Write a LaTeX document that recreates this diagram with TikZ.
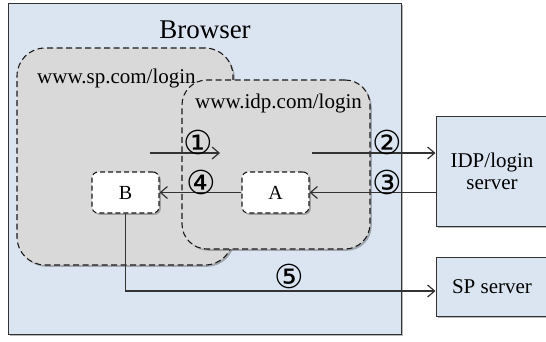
\documentclass[tikz,border=0pt]{standalone}
\usepackage{fontspec}
\setmainfont{Liberation Serif}
\newfontfamily\circfont{DejaVu Sans}
\usetikzlibrary{arrows.meta,shadows,calc}
\definecolor{lightblue}{HTML}{DBE5F1}
\definecolor{regiongray}{HTML}{D9D9D9}
\definecolor{linegray}{HTML}{333333}
\definecolor{dashgray}{HTML}{1A1A1A}
\begin{document}
\begin{tikzpicture}[x=1pt,y=-1pt,
  shad/.style={drop shadow={shadow xshift=1.8pt,shadow yshift=-1.8pt,opacity=0.4,fill=black!70}},
  panel/.style={draw=linegray,line width=1pt,fill=lightblue,shad,inner sep=0pt,font=\fontsize{21}{24}\selectfont,align=center},
  region/.style={draw=dashgray,dash pattern=on 6pt off 3.5pt,line width=1.1pt,fill=regiongray,rounded corners=28pt,shad,inner sep=0pt},
  smallbox/.style={draw=dashgray,dash pattern=on 5pt off 3pt,line width=1.1pt,fill=white,rounded corners=6pt,shad,minimum width=67pt,minimum height=41pt,inner sep=0pt,font=\fontsize{20}{24}\selectfont},
  lbl/.style={font=\fontsize{21}{24}\selectfont,inner sep=0pt},
  num/.style={font=\circfont\fontsize{33}{36}\selectfont,inner sep=0pt},
  arr/.style={draw=linegray,line width=1.2pt,-{Straight Barb[length=7pt,width=12pt,line width=1.2pt]}}
]
\clip (0,0) rectangle (546,341);
\fill[white] (0,0) rectangle (546,341);

% Browser
\node[panel,minimum width=393pt,minimum height=331pt] (browser) at (204.5,168.5) {};
\node[font=\fontsize{27}{30}\selectfont,inner sep=0pt] (btitle) at (205,30) {Browser};

% Regions
\node[region,minimum width=216pt,minimum height=217pt] (sp) at (125,156.5) {};
\node[region,minimum width=188pt,minimum height=169pt,rounded corners=25pt] (idp) at (276,164.5) {};
\node[lbl,anchor=base west] (splbl) at (37,83) {www.sp.com/login};
\node[lbl,anchor=base west] (idplbl) at (195,108) {www.idp.com/login};

% Inner boxes
\node[smallbox] (B) at (125.5,192.5) {B};
\node[smallbox] (A) at (275.5,192.5) {A};

% Servers
\node[panel,minimum width=112pt,minimum height=110pt] (idpsrv) at (492,171) {IDP/login\\[-2pt]server};
\node[panel,minimum width=112pt,minimum height=59pt] (spsrv) at (492,286.5) {SP server};

% Connectors
\coordinate (c1s) at (150,153);
\coordinate (c1e) at (220,153);
\coordinate (c2s) at (312,153);
\draw[arr] (c1s) -- (c1e);
\draw[arr] (c2s) -- (c2s -| idpsrv.west);
\draw[arr] (idpsrv.west |- A.east) -- (A.east);
\draw[arr] (A.west) -- (B.east);
\draw[arr] (B.south) |- ([yshift=-4.5pt]spsrv.west);

% Step numbers
\node[num] (n1) at (198,142) {①};
\node[num] (n2) at (387,142) {②};
\node[num] (n3) at (387,182) {③};
\node[num] (n4) at (201,182) {④};
\node[num] (n5) at (289,276) {⑤};
\end{tikzpicture}
\end{document}
